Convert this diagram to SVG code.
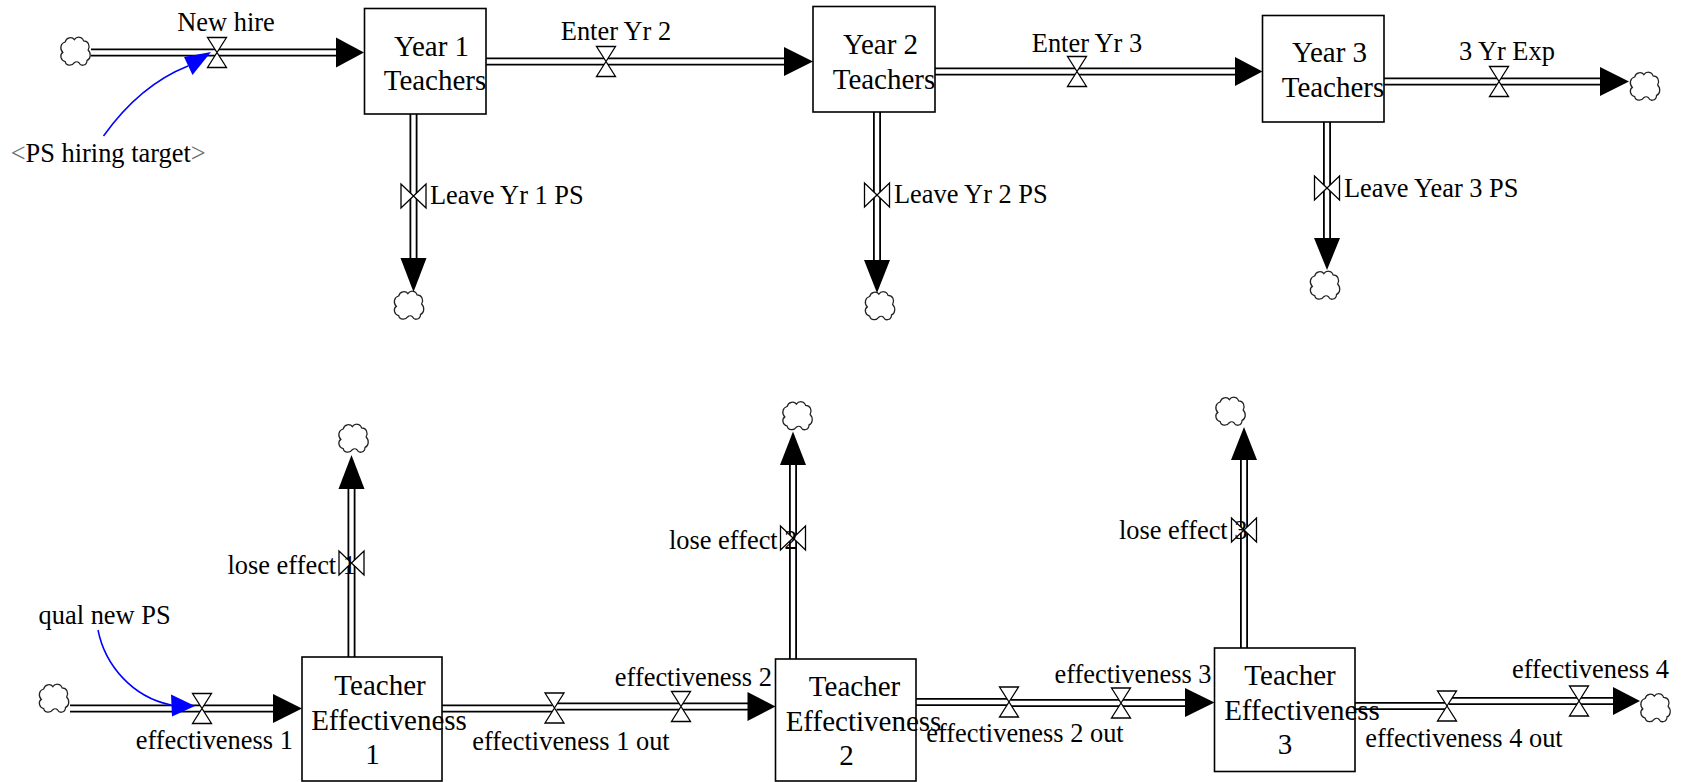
<svg xmlns="http://www.w3.org/2000/svg" xmlns:xlink="http://www.w3.org/1999/xlink" width="1682" height="782" viewBox="0 0 1682 782">
<style>
text{font-family:"Liberation Serif","Times New Roman",serif;fill:#000}
.st{font-size:29px;text-anchor:middle}
.lb{font-size:26.4px}
.mid{text-anchor:middle}
.box{fill:#fff;stroke:#000;stroke-width:1.6}
.po{fill:none;stroke:#000;stroke-width:8}
.pi{fill:none;stroke:#fff;stroke-width:4.4}
.ah{fill:#000;stroke:none}
.valve{fill:#fff;stroke:#000;stroke-width:1.3;stroke-linejoin:miter}
.cloud{fill:#fff;stroke:#222;stroke-width:1.1}
.link{fill:none;stroke:#0000ff;stroke-width:1.5}
.lah{fill:#0000ff}
.br{fill:#707070}
</style>
<defs>
<path id="cl" d="M-9,-10 c1,-4 6,-5 8,-2 c2,-3 7,-3 8,1 c4,0 6,4 4,8 c3,3 2,8 -1,9 c0,4 -5,6 -7,2 c-1,-1 -3,-1 -4,0 c-2,3 -7,3 -8,-1 c-4,-1 -5,-6 -2,-8 c-3,-3 -2,-8 2,-9 z"/>
<path id="vh" d="M-9.5,-15 L9.5,-15 L-9.5,15 L9.5,15 Z"/>
<path id="vv" d="M-12.5,-12 L-12.5,12 L12.5,-12 L12.5,12 Z"/>
</defs>

<g id="connectors">
  <!-- pipes: outer black then inner white -->
  <g class="po-g">
    <path class="po" d="M91,52.5H337 M486,61.5H785 M935,71.5H1236 M1384,81.5H1601 M413.5,114V259 M877,112V261 M1327,122V239 M351.5,657V488 M793,659V464 M1244,648V459 M70,708.5H274 M442,708.5H554.5 M554.5,706.5H748.5 M916,702H1009 M1009,703H1186 M1355,706H1447 M1447,701H1614"/>
    <path class="pi" d="M91,52.5H337 M486,61.5H785 M935,71.5H1236 M1384,81.5H1601 M413.5,114V259 M877,112V261 M1327,122V239 M351.5,657V488 M793,659V464 M1244,648V459 M70,708.5H274 M442,708.5H556.5 M552.5,706.5H748.5 M916,702H1011 M1007,703H1186 M1355,706H1449 M1445,701H1614"/>
  </g>
  <!-- arrowheads -->
  <polygon class="ah" points="336,37.5 364,52.5 336,67.5"/>
  <polygon class="ah" points="784,47 813,61.5 784,76"/>
  <polygon class="ah" points="1235,57 1262.5,71.5 1235,86"/>
  <polygon class="ah" points="1600,67 1629,81.5 1600,96"/>
  <polygon class="ah" points="400.5,258 426.5,258 413.5,292"/>
  <polygon class="ah" points="864,260 890,260 877,293"/>
  <polygon class="ah" points="1314,238 1340,238 1327,270"/>
  <polygon class="ah" points="338.5,489 364.5,489 351.5,455"/>
  <polygon class="ah" points="780,465 806,465 793,431.5"/>
  <polygon class="ah" points="1231,460 1257,460 1244,427"/>
  <polygon class="ah" points="273,694 302,708.5 273,723"/>
  <polygon class="ah" points="747.5,692 775.5,706.5 747.5,721"/>
  <polygon class="ah" points="1185,688 1214.5,702.5 1185,717"/>
  <polygon class="ah" points="1613,687 1640,701 1613,715"/>
  <!-- information links -->
  <path class="link" d="M103.5,136 Q140,85 188,66"/>
  <polygon class="lah" points="211,52 184,57 192.5,75"/>
  <path class="link" d="M98,630 C105,665 132,697 171,705"/>
  <polygon class="lah" points="195,706 171,694.5 172,716.5"/>
</g>

<!-- clouds -->
<g id="cloud-newhire-src"><use href="#cl" class="cloud" transform="translate(75.5,53.5) scale(1.15)"/></g>
<g id="cloud-leave1"><use href="#cl" class="cloud" transform="translate(409,307.5) scale(1.15)"/></g>
<g id="cloud-leave2"><use href="#cl" class="cloud" transform="translate(880,308) scale(1.15)"/></g>
<g id="cloud-leave3"><use href="#cl" class="cloud" transform="translate(1325,287.5) scale(1.15)"/></g>
<g id="cloud-3yrexp"><use href="#cl" class="cloud" transform="translate(1645,88.5) scale(1.15)"/></g>
<g id="cloud-eff1-src"><use href="#cl" class="cloud" transform="translate(54,700.5) scale(1.15)"/></g>
<g id="cloud-lose1"><use href="#cl" class="cloud" transform="translate(353.5,440.5) scale(1.15)"/></g>
<g id="cloud-lose2"><use href="#cl" class="cloud" transform="translate(797.5,418) scale(1.15)"/></g>
<g id="cloud-lose3"><use href="#cl" class="cloud" transform="translate(1230.5,413.5) scale(1.15)"/></g>
<g id="cloud-eff4"><use href="#cl" class="cloud" transform="translate(1655.5,710) scale(1.15)"/></g>

<!-- stocks -->
<g id="stock-year1">
  <rect class="box" x="364.5" y="8.5" width="121.5" height="105.5"/>
  <text class="st" x="431.5" y="56">Year 1</text>
  <text class="st" x="435" y="89.5">Teachers</text>
</g>
<g id="stock-year2">
  <rect class="box" x="813" y="6.5" width="122" height="105.5"/>
  <text class="st" x="880.5" y="54">Year 2</text>
  <text class="st" x="884" y="88.5">Teachers</text>
</g>
<g id="stock-year3">
  <rect class="box" x="1262.5" y="15.5" width="121.5" height="106.5"/>
  <text class="st" x="1329.5" y="62">Year 3</text>
  <text class="st" x="1333" y="96.5">Teachers</text>
</g>
<g id="stock-te1">
  <rect class="box" x="302" y="657" width="140" height="124"/>
  <text class="st" x="380" y="694.5">Teacher</text>
  <text class="st" x="389" y="730">Effectiveness</text>
  <text class="st" x="372.5" y="763.5">1</text>
</g>
<g id="stock-te2">
  <rect class="box" x="775.5" y="659" width="140.5" height="122"/>
  <text class="st" x="854.5" y="695.5">Teacher</text>
  <text class="st" x="863.5" y="731">Effectiveness</text>
  <text class="st" x="846.5" y="765">2</text>
</g>
<g id="stock-te3">
  <rect class="box" x="1214.5" y="648" width="140.5" height="123.5"/>
  <text class="st" x="1290" y="685">Teacher</text>
  <text class="st" x="1302" y="720">Effectiveness</text>
  <text class="st" x="1285" y="753.5">3</text>
</g>

<!-- flows (valves + labels) -->
<g id="flow-new-hire">
  <use href="#vh" class="valve" x="217" y="52.5"/>
  <text class="lb mid" x="226" y="31">New hire</text>
</g>
<g id="flow-enter-yr2">
  <use href="#vh" class="valve" x="606" y="61.5"/>
  <text class="lb mid" x="616" y="40">Enter Yr 2</text>
</g>
<g id="flow-enter-yr3">
  <use href="#vh" class="valve" x="1077" y="71.5"/>
  <text class="lb mid" x="1087" y="51.5">Enter Yr 3</text>
</g>
<g id="flow-3yr-exp">
  <use href="#vh" class="valve" x="1499" y="81.5"/>
  <text class="lb mid" x="1507" y="60">3 Yr Exp</text>
</g>
<g id="flow-leave-yr1">
  <use href="#vv" class="valve" x="413.5" y="196"/>
  <text class="lb" x="430" y="204">Leave Yr 1 PS</text>
</g>
<g id="flow-leave-yr2">
  <use href="#vv" class="valve" x="877" y="195"/>
  <text class="lb" x="894" y="203">Leave Yr 2 PS</text>
</g>
<g id="flow-leave-yr3">
  <use href="#vv" class="valve" x="1327" y="188"/>
  <text class="lb" x="1344" y="197">Leave Year 3 PS</text>
</g>
<g id="flow-eff1">
  <use href="#vh" class="valve" x="202" y="708.5"/>
  <text class="lb mid" x="214.3" y="749">effectiveness 1</text>
</g>
<g id="flow-eff1-out">
  <use href="#vh" class="valve" x="554.5" y="708"/>
  <text class="lb mid" x="571" y="749.5">effectiveness 1 out</text>
</g>
<g id="flow-eff2">
  <use href="#vh" class="valve" x="681" y="706.5"/>
  <text class="lb mid" x="693.4" y="686">effectiveness 2</text>
</g>
<g id="flow-eff2-out">
  <use href="#vh" class="valve" x="1009" y="702"/>
  <text class="lb mid" x="1025" y="742">effectiveness 2 out</text>
</g>
<g id="flow-eff3">
  <use href="#vh" class="valve" x="1121" y="703"/>
  <text class="lb mid" x="1133" y="683">effectiveness 3</text>
</g>
<g id="flow-eff4-out">
  <use href="#vh" class="valve" x="1447" y="706"/>
  <text class="lb mid" x="1464" y="747">effectiveness 4 out</text>
</g>
<g id="flow-eff4">
  <use href="#vh" class="valve" x="1579" y="701"/>
  <text class="lb mid" x="1590.5" y="678">effectiveness 4</text>
</g>
<g id="flow-lose1">
  <use href="#vv" class="valve" x="351.5" y="563"/>
  <text class="lb" x="227.5" y="574">lose effect 1</text>
</g>
<g id="flow-lose2">
  <use href="#vv" class="valve" x="793" y="538"/>
  <text class="lb" x="669" y="548.5">lose effect 2</text>
</g>
<g id="flow-lose3">
  <use href="#vv" class="valve" x="1244" y="530"/>
  <text class="lb" x="1119" y="539">lose effect 3</text>
</g>

<!-- auxiliaries -->
<g id="aux-ps-hiring-target">
  <text class="lb" x="10.7" y="162"><tspan class="br">&lt;</tspan>PS hiring target<tspan class="br">&gt;</tspan></text>
</g>
<g id="aux-qual-new-ps">
  <text class="lb mid" x="104.6" y="624">qual new PS</text>
</g>
</svg>
